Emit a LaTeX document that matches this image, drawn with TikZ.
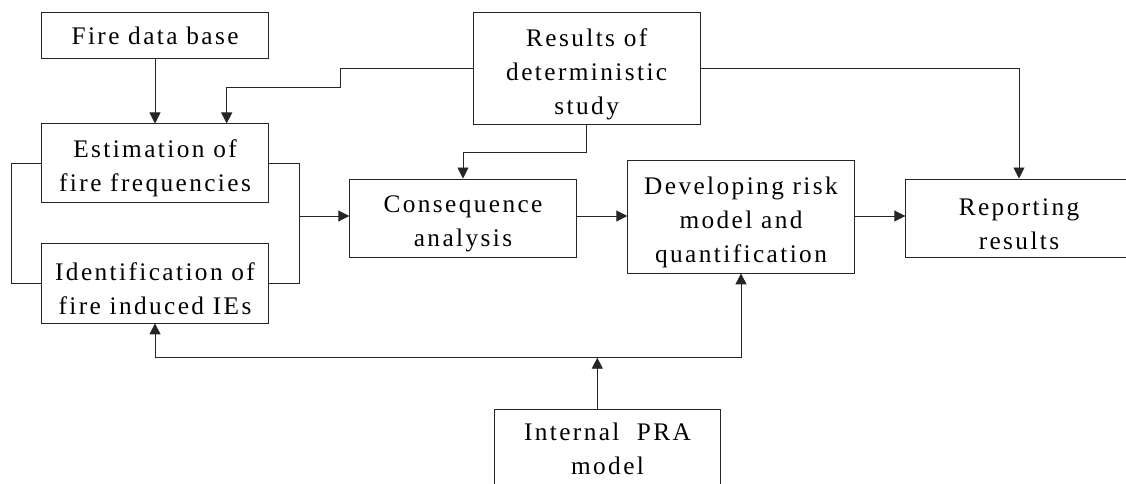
\documentclass[tikz,border=0pt]{standalone}
\usepackage{fontspec}
\setmainfont{Liberation Serif}[LetterSpace=9.5]
\usetikzlibrary{arrows.meta,calc}
\newcommand\firstln{\rule{0pt}{28.5pt}}
\tikzset{
  box/.style={draw=black!85, line width=0.9pt, minimum width=226.5pt, inner sep=0pt, align=center, font=\fontsize{25.3}{34}\selectfont},
  conn/.style={line width=0.9pt, draw=black!85},
  tipa/.tip={Triangle[length=11pt,width=11pt]},
  arr/.style={conn, -tipa},
  arrboth/.style={conn, tipa-tipa},
}
\begin{document}
\begin{tikzpicture}[x=1pt,y=-1pt]
\useasboundingbox (0,0) rectangle (1126,484);
\clip (0,0) rectangle (1126,484);
\node[box, minimum height=45.6pt] (fdb) at (155,35.5) {Fire data base};
\node[box, minimum height=78.7pt] (est) at (155,163.3) {\firstln Estimation of\\fire frequencies};
\node[box, minimum height=79.3pt] (ide) at (155,283.3) {\firstln Identification of\\fire induced IEs};
\node[box, minimum height=112.3pt] (res) at (586.7,68.8) {\firstln Results of\\deterministic\\study};
\node[box, minimum height=78.7pt] (con) at (463,218.3) {\firstln Consequence\\analysis};
\node[box, minimum height=112.3pt] (dev) at (741,216.8) {\firstln Developing risk\\model and\\quantification};
\node[box, minimum height=78.7pt] (rep) at (1019,218.3) {\firstln Reporting\\results};
\node[box, minimum height=79pt] (pra) at (607.5,449) {Internal~~PRA\\model};
\coordinate (j) at (299,216);
\coordinate (bus) at (597.3,357.7);
\draw[arr] (fdb.south) -- (est.north);
\draw[arr] (res.west) -| (340,87.3) -| ($(est.north)+(71.7,0)$);
\draw[arr] (res.south) -- ++(0,26.9) -| (con.north);
\draw[arr] (res.east) -| (rep.north);
\draw[conn] (est.west) -- (11.7,163.3) |- (ide.west);
\draw[conn] (est.east) -- (299,163.3) |- (ide.east);
\draw[arr] (j) -- (j -| con.west);
\draw[arr] (con.east |- j) -- (dev.west |- j);
\draw[arr] (dev.east |- j) -- (rep.west |- j);
\draw[arr] (pra.north -| bus) -- (bus);
\draw[arrboth] (ide.south) |- (bus) -| (dev.south);
\end{tikzpicture}
\end{document}
